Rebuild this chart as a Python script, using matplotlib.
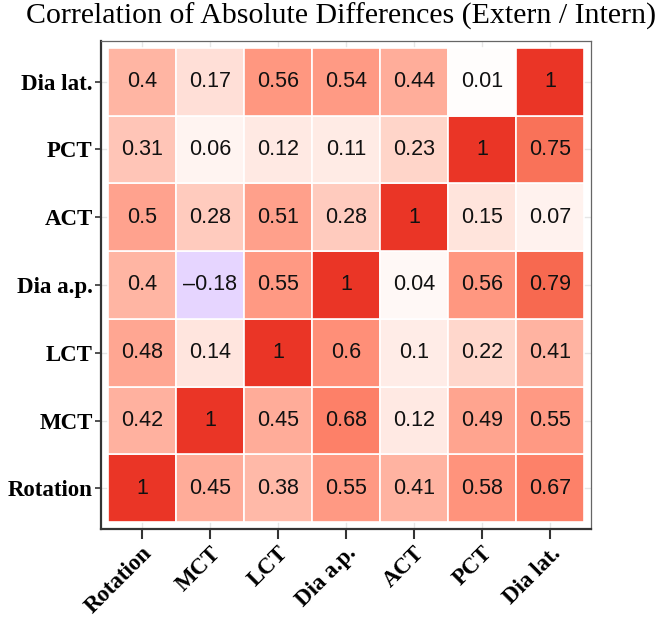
import numpy as np
import matplotlib
matplotlib.use("Agg")
import matplotlib.pyplot as plt
from matplotlib.colors import ListedColormap, Normalize

# variables (bottom to top on y, left to right on x)
variables = ["Rotation", "MCT", "LCT", "Dia a.p.", "ACT", "PCT", "Dia lat."]

# one list per row, rows listed bottom -> top
row_rotation = [1, 0.45, 0.38, 0.55, 0.41, 0.58, 0.67]
row_mct = [0.42, 1, 0.45, 0.68, 0.12, 0.49, 0.55]
row_lct = [0.48, 0.14, 1, 0.6, 0.1, 0.22, 0.41]
row_dia_ap = [0.4, -0.18, 0.55, 1, 0.04, 0.56, 0.79]
row_act = [0.5, 0.28, 0.51, 0.28, 1, 0.15, 0.07]
row_pct = [0.31, 0.06, 0.12, 0.11, 0.23, 1, 0.75]
row_dia_lat = [0.4, 0.17, 0.56, 0.54, 0.44, 0.01, 1]

corr = np.array([row_rotation, row_mct, row_lct, row_dia_ap,
                 row_act, row_pct, row_dia_lat])


# --- colour scale: blue - white - red, interpolated in Lab like ggplot ---
def srgb_to_lab(rgb):
    c = np.asarray(rgb, float) / 255.0
    c = np.where(c > 0.04045, ((c + 0.055) / 1.055) ** 2.4, c / 12.92)
    m = np.array([[0.4124, 0.3576, 0.1805],
                  [0.2126, 0.7152, 0.0722],
                  [0.0193, 0.1192, 0.9505]])
    xyz = m @ c / np.array([0.95047, 1.0, 1.08883])
    f = np.where(xyz > 0.008856, np.cbrt(xyz), 7.787 * xyz + 16 / 116)
    return np.array([116 * f[1] - 16, 500 * (f[0] - f[1]), 200 * (f[1] - f[2])])


def lab_to_srgb(lab):
    L, a, b = lab
    fy = (L + 16) / 116
    fx = fy + a / 500
    fz = fy - b / 200
    f = np.array([fx, fy, fz])
    xyz = np.where(f ** 3 > 0.008856, f ** 3, (f - 16 / 116) / 7.787)
    xyz = xyz * np.array([0.95047, 1.0, 1.08883])
    m = np.array([[3.2406, -1.5372, -0.4986],
                  [-0.9689, 1.8758, 0.0415],
                  [0.0557, -0.2040, 1.0570]])
    c = m @ xyz
    c = np.where(c > 0.0031308, 1.055 * np.clip(c, 0, None) ** (1 / 2.4) - 0.055, 12.92 * c)
    return np.clip(c, 0, 1)


low = srgb_to_lab((0, 0, 255))
mid = srgb_to_lab((255, 255, 255))
high = srgb_to_lab((234, 53, 38))
colors = []
for t in np.linspace(-1, 1, 513):
    end = high if t >= 0 else low
    colors.append(lab_to_srgb(mid + abs(t) * (end - mid)))
cmap = ListedColormap(colors)
norm = Normalize(-1, 1)

fig = plt.figure(figsize=(6.62, 6.17), dpi=100)
W, H = 662, 617
ax = fig.add_axes([101 / W, (H - 529) / H, 490 / W, 488 / H])

n = len(variables)
pad = 0.1
for i in range(n):
    for j in range(n):
        v = corr[i, j]
        ax.add_patch(plt.Rectangle((j - 0.5, i - 0.5), 1, 1,
                                   facecolor=cmap(norm(v)), edgecolor="white",
                                   linewidth=1.2, zorder=2))
        ax.text(j, i, f"{v:g}".replace("-", "\u2013"), ha="center", va="center",
                fontsize=15.5, family="Liberation Sans", color="#111111", zorder=3)

ax.set_xlim(-0.5 - pad, n - 0.5 + pad)
ax.set_ylim(-0.5 - pad, n - 0.5 + pad)
ax.set_xticks(range(n))
ax.set_yticks(range(n))
ax.set_xticklabels(variables, rotation=45, ha="right", rotation_mode="anchor",
                   fontfamily="Liberation Serif", fontweight="bold", fontsize=16.5)
ax.set_yticklabels(variables, fontfamily="Liberation Serif", fontweight="bold",
                   fontsize=16.5)
ax.tick_params(axis="x", length=7, width=1.5, color="#333333", pad=3)
ax.tick_params(axis="y", length=4, width=1.2, color="#333333", pad=2)
ax.grid(True, color="#E6E6E6", linewidth=1, zorder=0)
ax.set_axisbelow(True)

for side in ["top", "right"]:
    ax.spines[side].set_color("#666666")
    ax.spines[side].set_linewidth(0.9)
for side in ["left", "bottom"]:
    ax.spines[side].set_color("#333333")
    ax.spines[side].set_linewidth(1.6)

fig.text(341 / W, 1 - 16 / H, "Correlation of Absolute Differences (Extern / Intern)",
         ha="center", va="center", fontfamily="Liberation Serif", fontsize=21.5)

fig.savefig("out.png", dpi=100)
